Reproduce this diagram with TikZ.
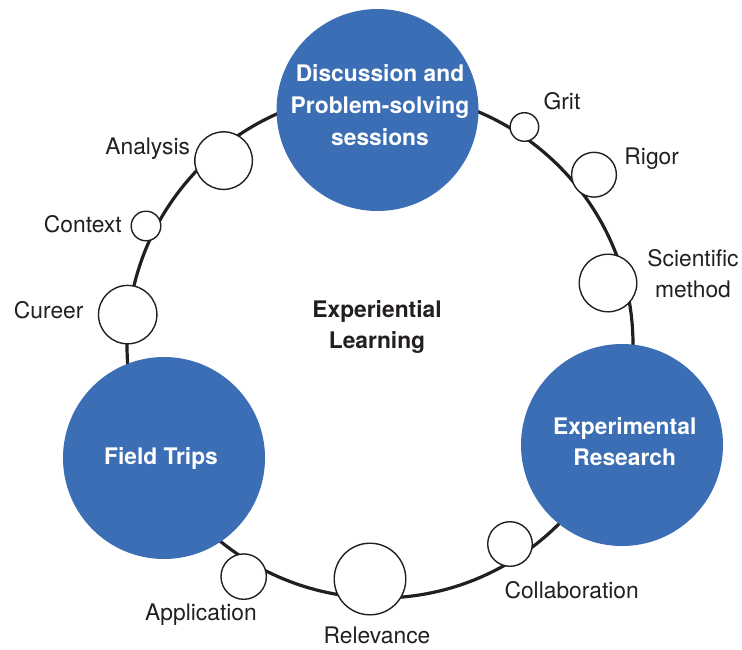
\documentclass[tikz,border=0pt]{standalone}
\usepackage{fontspec}
\setmainfont{TeX Gyre Heros}
\usepackage{xcolor}
\usetikzlibrary{positioning}
\definecolor{tripblue}{RGB}{59,110,181}
\definecolor{inkgray}{RGB}{35,31,32}

\begin{document}
\begin{tikzpicture}[x=0.5pt,y=-0.5pt,
        ring/.style={line width=1.6pt, draw=inkgray},
        bigdisc/.style={circle, fill=tripblue, inner sep=0pt, minimum size=101pt},
        bigtext/.style={text=white, align=center, inner sep=0pt, font=\bfseries\fontsize{11.4}{15.8}\selectfont},
        dot/.style={circle, draw=inkgray, fill=white, line width=0.7pt, inner sep=0pt, minimum size=#1},
        tag/.style={text=inkgray, align=center, inner sep=0pt, font=\fontsize{11.4}{15.5}\selectfont}]
        \newcommand{\ringxcent}{380}
        \newcommand{\ringycent}{345}
        \newcommand{\ringrad}{253}
        \useasboundingbox (0,0) rectangle (742,649);
        \coordinate (hub) at (\ringxcent,\ringycent);
        \draw[ring] (hub) circle [radius=\ringrad];
        \node[dot=14.3pt] (grit) at (524.4,127) {};
        \node[dot=22.4pt] (rigor) at (594,174.7) {};
        \node[dot=28.8pt] (method) at (608,283) {};
        \node[dot=22.3pt] (collab) at (510,544) {};
        \node[dot=35.8pt] (relev) at (370,579) {};
        \node[dot=22.7pt] (applic) at (243.7,576.6) {};
        \node[dot=29.2pt] (cureer) at (127.7,314.6) {};
        \node[dot=14.8pt] (context) at (146,226) {};
        \node[dot=28.8pt] (analysis) at (223.6,160.6) {};
        \node[tag] (gritlbl) at (562,101.4) {Grit};
        \node[tag] (rigorlbl) at (651.7,158.5) {Rigor};
        \node[tag] (methodlbl) at (693,274) {Scientific\\method};
        \node[tag] (collablbl) at (571.7,589.8) {Collaboration};
        \node[tag] (relevlbl) at (377,635) {Relevance};
        \node[tag] (appliclbl) at (201,614.7) {Application};
        \node[tag] (cureerlbl) at (48.7,310.4) {Cureer};
        \node[tag] (contextlbl) at (82.8,224) {Context};
        \node[tag] (analysislbl) at (147.7,149) {Analysis};
        \node[tag, font=\bfseries\fontsize{11.4}{15.8}\selectfont] (hublbl) at (377,327) {Experiential\\Learning};
        \node[bigdisc] (talk) at (377.5,110) {};
        \node[bigdisc] (research) at (622,445) {};
        \node[bigdisc] (trips) at (164,458) {};
        \node[bigtext] (talklbl) at (380,105.2) {Discussion and\\Problem-solving\\sessions};
        \node[bigtext] (researchlbl) at (624.7,441.5) {Experimental\\Research};
        \node[bigtext] (tripslbl) at (161,458) {Field Trips};
\end{tikzpicture}
\end{document}
